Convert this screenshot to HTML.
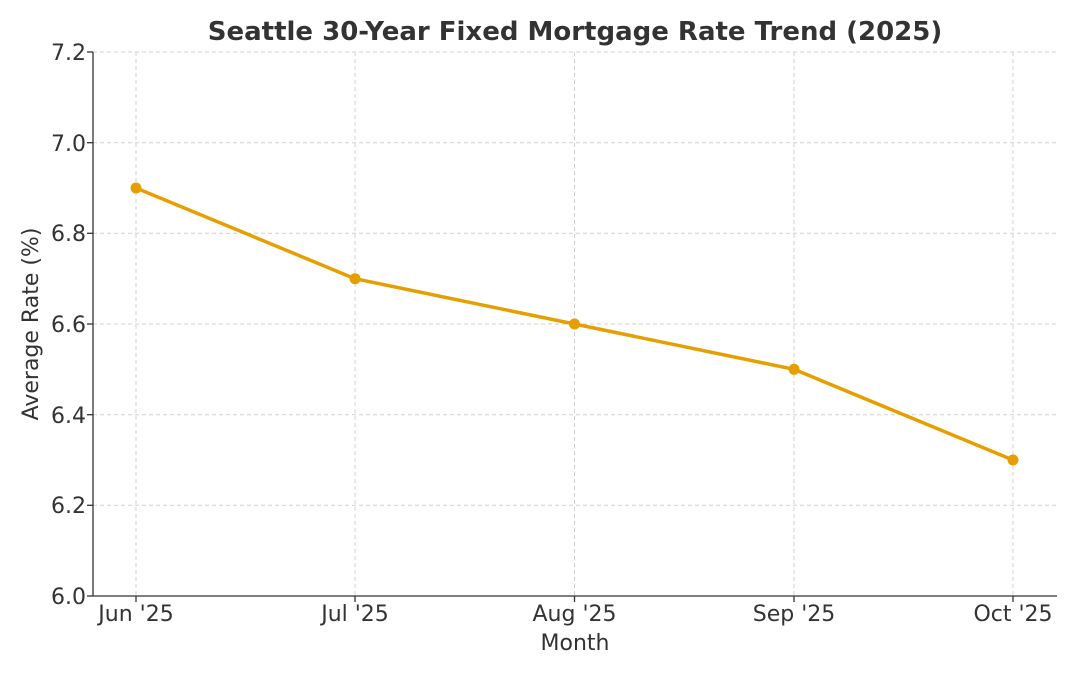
<!DOCTYPE html>
<html><head><meta charset="utf-8"><style>
html,body{margin:0;padding:0;background:#fff;}
svg{display:block;font-family:"DejaVu Sans","Liberation Sans",sans-serif;}
</style></head><body>
<svg width="1080" height="675" viewBox="0 0 1080 675" xmlns="http://www.w3.org/2000/svg">
<rect width="1080" height="675" fill="#fff"/>
<text x="575" y="40" text-anchor="middle" font-size="26" font-weight="bold" fill="#333">Seattle 30-Year Fixed Mortgage Rate Trend (2025)</text>
<g stroke="#d0d0d0" stroke-width="1" stroke-dasharray="4,3">
<line x1="93" x2="1057" y1="52" y2="52"/>
<line x1="93" x2="1057" y1="142.7" y2="142.7"/>
<line x1="93" x2="1057" y1="233.3" y2="233.3"/>
<line x1="93" x2="1057" y1="324" y2="324"/>
<line x1="93" x2="1057" y1="414.7" y2="414.7"/>
<line x1="93" x2="1057" y1="505.3" y2="505.3"/>
<line x1="136" x2="136" y1="52" y2="596"/>
<line x1="355" x2="355" y1="52" y2="596"/>
<line x1="574.5" x2="574.5" y1="52" y2="596"/>
<line x1="794" x2="794" y1="52" y2="596"/>
<line x1="1013" x2="1013" y1="52" y2="596"/>
</g>
<g stroke="#333" stroke-width="1.3">
<line x1="93" x2="93" y1="52" y2="596"/>
<line x1="93" x2="1057" y1="596" y2="596"/>
<line x1="87" x2="93" y1="52" y2="52"/>
<line x1="87" x2="93" y1="142.7" y2="142.7"/>
<line x1="87" x2="93" y1="233.3" y2="233.3"/>
<line x1="87" x2="93" y1="324" y2="324"/>
<line x1="87" x2="93" y1="414.7" y2="414.7"/>
<line x1="87" x2="93" y1="505.3" y2="505.3"/>
<line x1="87" x2="93" y1="596" y2="596"/>
<line x1="136" x2="136" y1="596" y2="602"/>
<line x1="355" x2="355" y1="596" y2="602"/>
<line x1="574.5" x2="574.5" y1="596" y2="602"/>
<line x1="794" x2="794" y1="596" y2="602"/>
<line x1="1013" x2="1013" y1="596" y2="602"/>
</g>
<g font-size="22" fill="#333" text-anchor="end">
<text x="86" y="60">7.2</text>
<text x="86" y="151">7.0</text>
<text x="86" y="241">6.8</text>
<text x="86" y="332">6.6</text>
<text x="86" y="423">6.4</text>
<text x="86" y="513">6.2</text>
<text x="86" y="604">6.0</text>
</g>
<g font-size="22" fill="#333" text-anchor="middle">
<text x="136" y="621">Jun '25</text>
<text x="355" y="621">Jul '25</text>
<text x="574.5" y="621">Aug '25</text>
<text x="794" y="621">Sep '25</text>
<text x="1013" y="621">Oct '25</text>
<text x="575" y="650">Month</text>
<text transform="translate(38,324) rotate(-90)">Average Rate (%)</text>
</g>
<polyline fill="none" stroke="#E69F00" stroke-width="3.5" stroke-linejoin="round" points="136,188 355,278.7 574.5,324 794,369.3 1013,460"/>
<g fill="#E69F00">
<circle cx="136" cy="188" r="5.5"/>
<circle cx="355" cy="278.7" r="5.5"/>
<circle cx="574.5" cy="324" r="5.5"/>
<circle cx="794" cy="369.3" r="5.5"/>
<circle cx="1013" cy="460" r="5.5"/>
</g>
</svg>
</body></html>
